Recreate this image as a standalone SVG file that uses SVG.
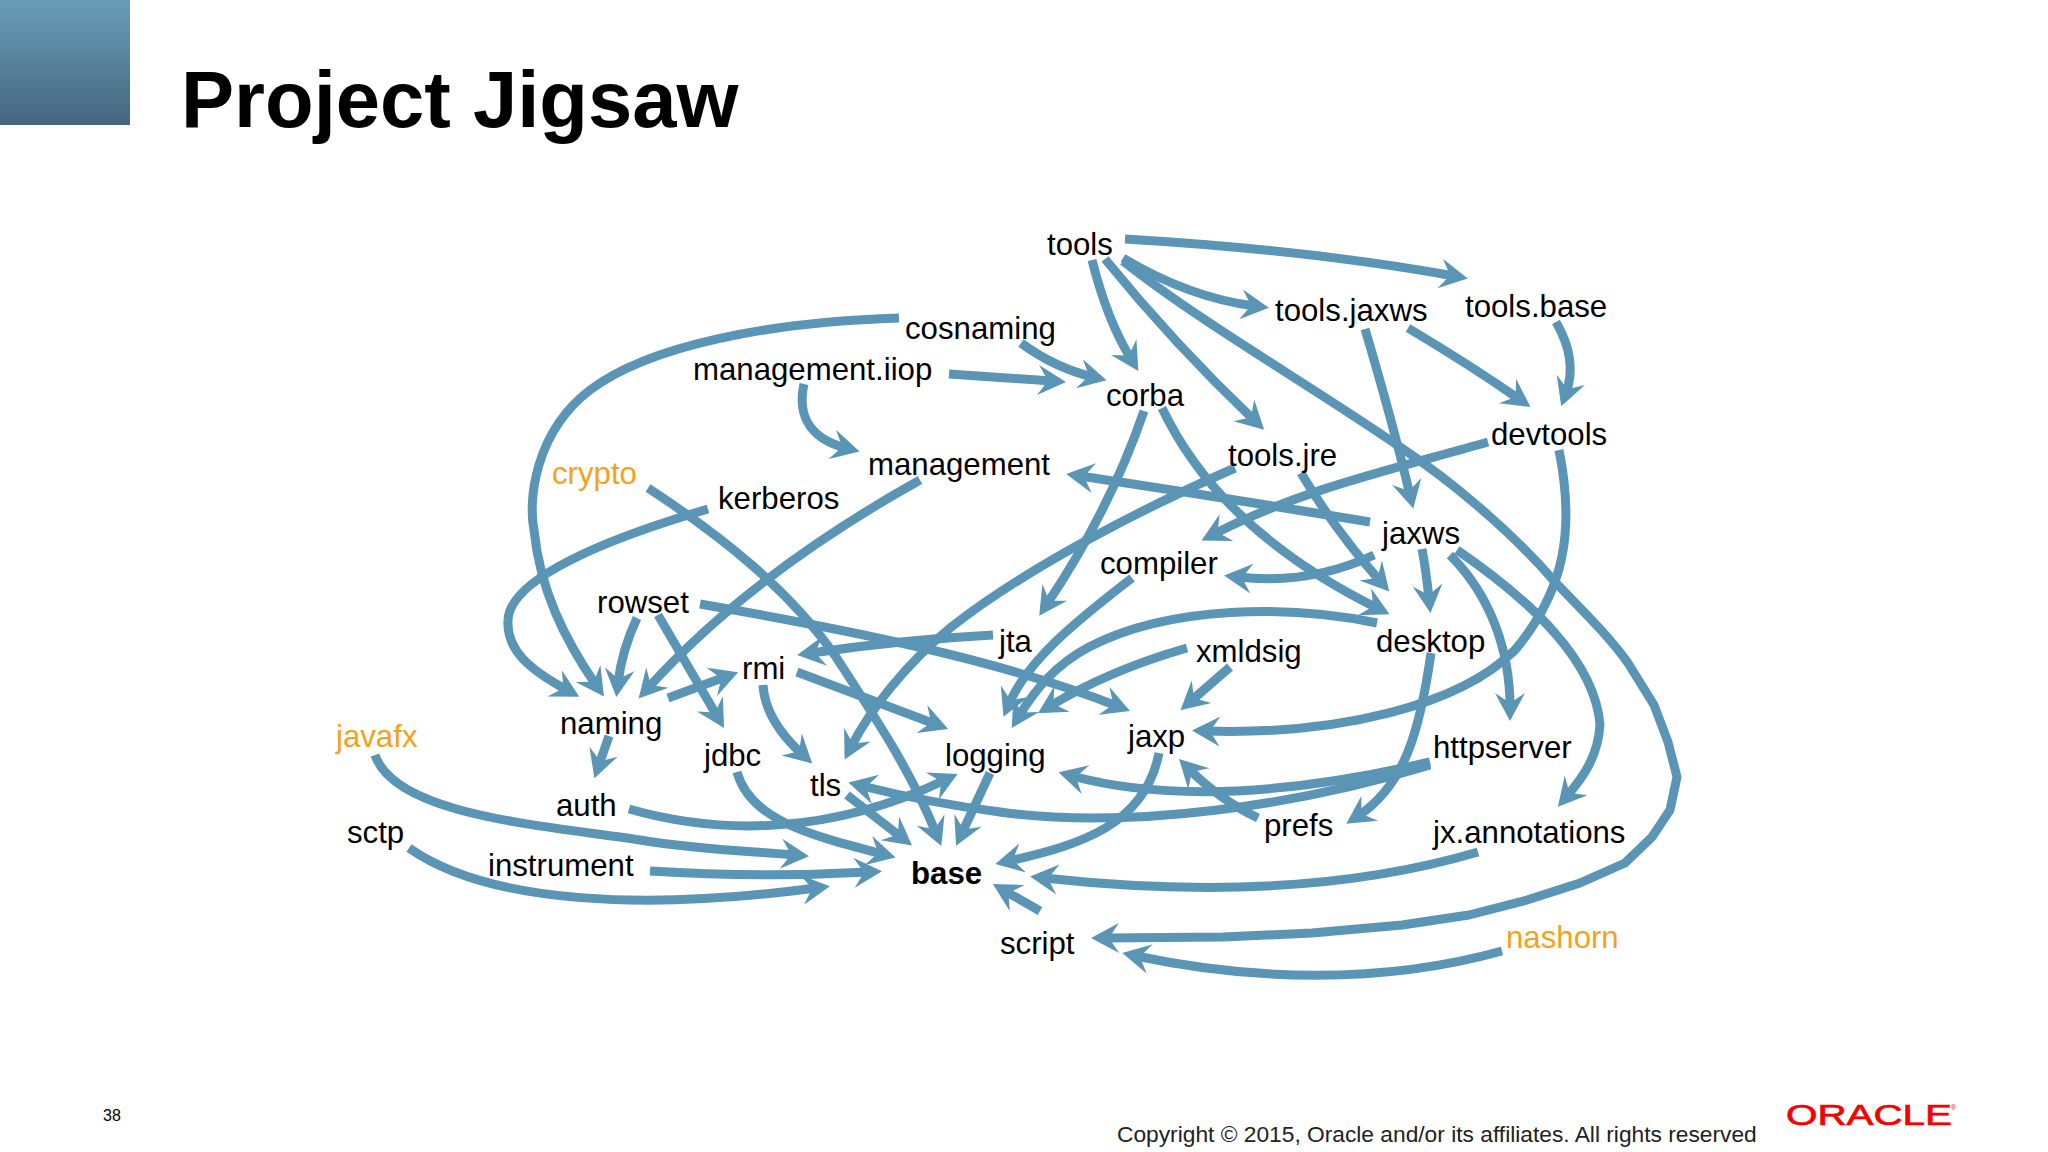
<svg xmlns="http://www.w3.org/2000/svg" width="2048" height="1152" viewBox="0 0 2048 1152">
<style>
text{font-family:"Liberation Sans",Arial,sans-serif;fill:#000}
.n{font-size:31.2px}
.o{font-size:31.2px;fill:#f5a21b}
.b{font-size:31.2px;font-weight:700}
#edges path{fill:none;stroke:#5a95b6;stroke-width:9;stroke-linejoin:round;marker-end:url(#a)}
</style>
<defs>
<linearGradient id="g" x1="0" y1="0" x2="0" y2="1"><stop offset="0" stop-color="#6a9cb7"/><stop offset="1" stop-color="#45677f"/></linearGradient>
<marker id="a" markerUnits="userSpaceOnUse" viewBox="-15 -16 30 32" refX="0" refY="0" markerWidth="30" markerHeight="32" orient="auto"><path d="M14,0 L-14,-15 L-4,0 L-14,15 Z" fill="#5a95b6"/></marker>
</defs>
<rect width="2048" height="1152" fill="#fff"/>
<rect id="corner" x="0" y="0" width="130" height="125" fill="url(#g)"/>
<text id="title" x="181" y="127" style="font-size:79.6px;font-weight:700">Project Jigsaw</text>
<g id="edges">
<path d="M1125,239 Q1310,250 1454,276"/>
<path d="M1123,258 Q1190,298 1255,306"/>
<path d="M1092,260 Q1107,320 1131,359"/>
<path d="M1105,259 Q1175,345 1254,420"/>
<path d="M1123,261 C1200,322 1310,385 1400,447 C1450,480 1510,530 1555,582 C1590,618 1610,638 1628,663 L1654,705 L1668,742 L1677,777 L1670,810 L1652,837 L1625,863 L1580,883 L1527,900 L1469,915 L1402,925 L1312,933 L1223,937 L1105,938"/>
<path d="M1408,328 Q1470,365 1519,399"/>
<path d="M1365,329 Q1392,420 1410,495"/>
<path d="M1556,322 Q1578,360 1566,393"/>
<path d="M899,318 C770,322 650,345 590,390 C535,432 528,500 534,530 C540,590 565,640 596,685"/>
<path d="M804,384 C796,420 815,440 846,448"/>
<path d="M949,374 L1052,381"/>
<path d="M1021,343 Q1055,368 1093,377"/>
<path d="M1144,411 Q1110,510 1047,604"/>
<path d="M1162,408 Q1220,530 1377,608"/>
<path d="M1235,468 C1150,505 1030,565 950,628 C905,665 870,710 851,747"/>
<path d="M1301,473 Q1335,530 1380,581"/>
<path d="M1488,442 C1390,470 1300,490 1214,534"/>
<path d="M1559,450 C1575,530 1565,590 1515,650 C1460,705 1340,735 1206,731"/>
<path d="M1370,522 Q1220,497 1080,476"/>
<path d="M1374,555 Q1310,585 1238,577"/>
<path d="M1422,549 Q1426,570 1429,599"/>
<path d="M1450,555 C1490,595 1510,650 1510,707"/>
<path d="M1457,550 C1530,600 1595,660 1600,725 C1598,755 1585,775 1567,796"/>
<path d="M708,509 C620,535 510,575 508,620 C506,650 530,670 567,690"/>
<path d="M648,488 C720,535 790,590 836,657 C880,725 910,770 936,833"/>
<path d="M920,480 Q750,575 648,688"/>
<path d="M637,618 Q622,650 618,683"/>
<path d="M658,615 L717,716"/>
<path d="M700,604 C850,630 1000,660 1117,706"/>
<path d="M993,635 Q900,640 811,653"/>
<path d="M668,698 L725,677"/>
<path d="M797,672 L935,724"/>
<path d="M763,685 Q765,720 802,754"/>
<path d="M609,736 L599,765"/>
<path d="M629,809 C720,835 830,835 945,780"/>
<path d="M375,755 C395,815 540,825 640,840 C700,850 750,851 795,855"/>
<path d="M409,848 C490,905 650,910 816,888"/>
<path d="M650,871 Q760,878 868,872"/>
<path d="M737,772 C750,820 810,835 882,854"/>
<path d="M847,795 L901,837"/>
<path d="M990,773 L962,833"/>
<path d="M1159,753 C1145,825 1080,845 1009,861"/>
<path d="M1478,852 C1350,890 1200,895 1044,878"/>
<path d="M1040,911 L1005,891"/>
<path d="M1502,951 C1380,985 1250,980 1136,956"/>
<path d="M1230,667 L1191,701"/>
<path d="M1187,648 Q1110,670 1050,706"/>
<path d="M1132,578 C1075,622 1028,660 1009,704"/>
<path d="M1377,623 C1290,605 1170,605 1089,647 C1055,665 1035,690 1019,716"/>
<path d="M1431,653 C1420,730 1405,785 1358,816"/>
<path d="M1430,762 C1310,790 1180,805 1072,776"/>
<path d="M1430,765 C1300,805 1130,830 1000,812 Q930,803 862,786"/>
<path d="M1258,818 Q1220,800 1189,769"/>
</g>
<g id="tools"><text class="n" x="1047" y="255">tools</text></g>
<g id="tools-jaxws"><text class="n" x="1275" y="321">tools.jaxws</text></g>
<g id="tools-base"><text class="n" x="1465" y="317">tools.base</text></g>
<g id="cosnaming"><text class="n" x="905" y="339">cosnaming</text></g>
<g id="management-iiop"><text class="n" x="693" y="380">management.iiop</text></g>
<g id="corba"><text class="n" x="1106" y="406">corba</text></g>
<g id="management"><text class="n" x="868" y="475">management</text></g>
<g id="tools-jre"><text class="n" x="1228" y="466">tools.jre</text></g>
<g id="devtools"><text class="n" x="1491" y="445">devtools</text></g>
<g id="crypto"><text class="o" x="552" y="484">crypto</text></g>
<g id="kerberos"><text class="n" x="718" y="509">kerberos</text></g>
<g id="jaxws"><text class="n" x="1382" y="544">jaxws</text></g>
<g id="compiler"><text class="n" x="1100" y="574">compiler</text></g>
<g id="rowset"><text class="n" x="597" y="613">rowset</text></g>
<g id="desktop"><text class="n" x="1376" y="652">desktop</text></g>
<g id="jta"><text class="n" x="999" y="652">jta</text></g>
<g id="xmldsig"><text class="n" x="1196" y="662">xmldsig</text></g>
<g id="rmi"><text class="n" x="742" y="679">rmi</text></g>
<g id="naming"><text class="n" x="560" y="734">naming</text></g>
<g id="jaxp"><text class="n" x="1128" y="747">jaxp</text></g>
<g id="httpserver"><text class="n" x="1433" y="758">httpserver</text></g>
<g id="javafx"><text class="o" x="336" y="747">javafx</text></g>
<g id="jdbc"><text class="n" x="704" y="766">jdbc</text></g>
<g id="logging"><text class="n" x="945" y="766">logging</text></g>
<g id="tls"><text class="n" x="810" y="796">tls</text></g>
<g id="auth"><text class="n" x="556" y="816">auth</text></g>
<g id="prefs"><text class="n" x="1264" y="836">prefs</text></g>
<g id="jx-annotations"><text class="n" x="1433" y="843">jx.annotations</text></g>
<g id="sctp"><text class="n" x="347" y="843">sctp</text></g>
<g id="instrument"><text class="n" x="488" y="876">instrument</text></g>
<g id="base"><text class="b" x="911" y="884">base</text></g>
<g id="script"><text class="n" x="1000" y="954">script</text></g>
<g id="nashorn"><text class="o" x="1506" y="948">nashorn</text></g>
<text x="103" y="1121" style="font-size:16px">38</text>
<text x="1117" y="1142" style="font-size:22.75px;fill:#222">Copyright © 2015, Oracle and/or its affiliates. All rights reserved</text>
<text x="1786" y="1125" textLength="166" lengthAdjust="spacingAndGlyphs" style="font-size:30px;fill:#f80000;stroke:#f80000;stroke-width:.7">ORACLE</text>
<text x="1951" y="1110" style="font-size:7px;fill:#f80000">®</text>
</svg>
